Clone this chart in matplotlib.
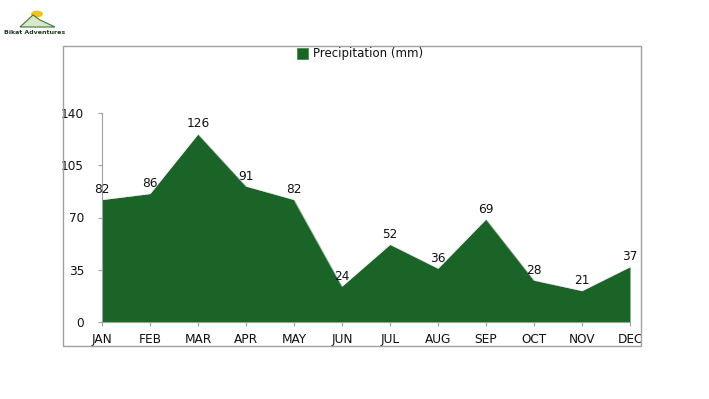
import matplotlib
matplotlib.use("Agg")
import matplotlib.pyplot as plt
from matplotlib.patches import Rectangle, Polygon, Circle

months = ["JAN", "FEB", "MAR", "APR", "MAY", "JUN", "JUL", "AUG", "SEP", "OCT", "NOV", "DEC"]
precip = [82, 86, 126, 91, 82, 24, 52, 36, 69, 28, 21, 37]
yticks = [0, 35, 70, 105, 140]
series_name = "Precipitation (mm)"

green = "#1b6428"
W, H = 709, 399
fig = plt.figure(figsize=(W / 100, H / 100), dpi=100)
plt.rcParams['font.family'] = ['DejaVu Sans']

# outer frame
fig.patches.append(Rectangle((63 / W, 1 - 346 / H), 578 / W, 300 / H, transform=fig.transFigure,
                             fill=False, edgecolor="#a0a0a0", linewidth=1.0))

ax = fig.add_axes([102 / W, 1 - 322 / H, (630 - 102) / W, (322 - 113) / H])
x = list(range(len(months)))
ax.fill_between(x, precip, 0, color=green, linewidth=0)
ax.plot(x, precip, color="#e8f0e8", linewidth=0.8, alpha=0.6)
ax.set_xlim(0, len(months) - 1)
ax.set_ylim(0, 140)
ax.set_xticks(x)
ax.set_xticklabels(months, fontsize=8.7)
ax.set_yticks(yticks)
ax.set_yticklabels([str(v) for v in yticks], fontsize=8.7)
for s in ["top", "right"]:
    ax.spines[s].set_visible(False)
for s in ["left", "bottom"]:
    ax.spines[s].set_color("#a0a0a0")
    ax.spines[s].set_linewidth(0.8)
ax.tick_params(axis="both", colors="#a0a0a0", labelcolor="#111111", length=3, width=0.8)
ax.tick_params(axis="y", pad=10)
ax.tick_params(axis="x", pad=5)
ax.set_facecolor("none")

for xi, v in zip(x, precip):
    ax.annotate(str(v), (xi, v), xytext=(0, 2.5), textcoords="offset points",
                ha="center", va="bottom", fontsize=8.7, color="#111111")

# legend
fig.patches.append(Rectangle((297 / W, 1 - 59 / H), 11 / W, 11 / H, transform=fig.transFigure,
                             facecolor=green, edgecolor="#4a8a50", linewidth=0.6))
fig.text(313 / W, 1 - 53.5 / H, series_name, fontsize=8.5, va="center", ha="left", color="#111111")

# logo
fig.patches.append(Circle((37 / W, 1 - 14 / H), 6 / W, transform=fig.transFigure,
                          facecolor="#f2c318", edgecolor="none"))
fig.patches.append(Polygon([(20 / W, 1 - 27 / H), (33 / W, 1 - 15 / H), (40 / W, 1 - 20 / H),
                            (55 / W, 1 - 27 / H)], closed=True, transform=fig.transFigure,
                           facecolor="#d8e8c8", edgecolor="#3b7a3b", linewidth=0.8))
fig.text(35 / W, 1 - 32 / H, "Bikat Adventures", fontsize=4.5, fontweight="bold",
         ha="center", va="center", color="#1f3b1f")

fig.savefig("out.png", dpi=100, facecolor="white")
